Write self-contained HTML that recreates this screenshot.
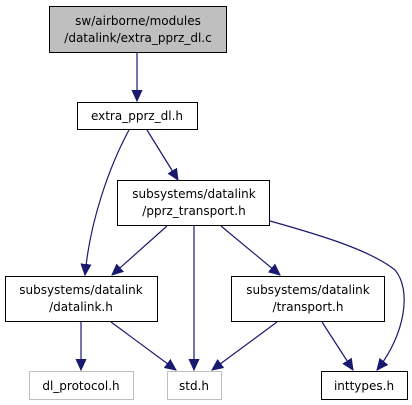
<!DOCTYPE html>
<html><head><meta charset="utf-8"><style>
html,body{margin:0;padding:0;background:#fff;}
svg{display:block}
text{font-family:"DejaVu Sans","Liberation Sans",sans-serif;font-size:12px;fill:#000;text-anchor:middle}
.e{fill:none;stroke:#191970;stroke-width:1.2}
.a{fill:#191970;stroke:#191970}
</style></head><body>
<svg width="412" height="405" viewBox="0 0 412 405" xmlns="http://www.w3.org/2000/svg">
<defs><marker id="m" markerWidth="12" markerHeight="12" refX="11" refY="6" orient="auto" markerUnits="userSpaceOnUse"><path d="M0,1 L11,6 L0,11 z" class="a"/></marker></defs>
<rect x="49.5" y="6.5" width="177" height="46" fill="#bfbfbf" stroke="#000"/>
<text x="138" y="25">sw/airborne/modules</text>
<text x="138" y="42">/datalink/extra_pprz_dl.c</text>
<rect x="77.5" y="102.5" width="120" height="27" fill="#fff" stroke="#000"/>
<text x="137" y="120">extra_pprz_dl.h</text>
<rect x="117.5" y="180.5" width="152" height="45" fill="#fff" stroke="#000"/>
<text x="194" y="198">subsystems/datalink</text>
<text x="194" y="215">/pprz_transport.h</text>
<rect x="5.5" y="276.5" width="152" height="45" fill="#fff" stroke="#000"/>
<text x="81" y="294">subsystems/datalink</text>
<text x="81" y="311">/datalink.h</text>
<rect x="231.5" y="276.5" width="153" height="45" fill="#fff" stroke="#000"/>
<text x="308" y="294">subsystems/datalink</text>
<text x="308" y="311">/transport.h</text>
<rect x="29.5" y="371.5" width="104" height="28" fill="#fff" stroke="#bfbfbf"/>
<text x="81" y="390">dl_protocol.h</text>
<rect x="167.5" y="371.5" width="54" height="28" fill="#fff" stroke="#bfbfbf"/>
<text x="194" y="390">std.h</text>
<rect x="321.5" y="371.5" width="86" height="28" fill="#fff" stroke="#000"/>
<text x="364" y="390">inttypes.h</text>
<path class="e" marker-end="url(#m)" d="M137,53 L137,101"/>
<path class="e" marker-end="url(#m)" d="M129,130 C110,165 90,220 85,275"/>
<path class="e" marker-end="url(#m)" d="M147,130 L178,180"/>
<path class="e" marker-end="url(#m)" d="M167,226 L112,275"/>
<path class="e" marker-end="url(#m)" d="M194,226 L194,370"/>
<path class="e" marker-end="url(#m)" d="M221,226 L280,275"/>
<path class="e" marker-end="url(#m)" d="M270,221 C320,235 370,250 395,270 C412,290 405,335 377,370"/>
<path class="e" marker-end="url(#m)" d="M81,322 L81,370"/>
<path class="e" marker-end="url(#m)" d="M111,322 L176,370"/>
<path class="e" marker-end="url(#m)" d="M277,322 L212,370"/>
<path class="e" marker-end="url(#m)" d="M322,322 L353,370"/>
</svg>
</body></html>
